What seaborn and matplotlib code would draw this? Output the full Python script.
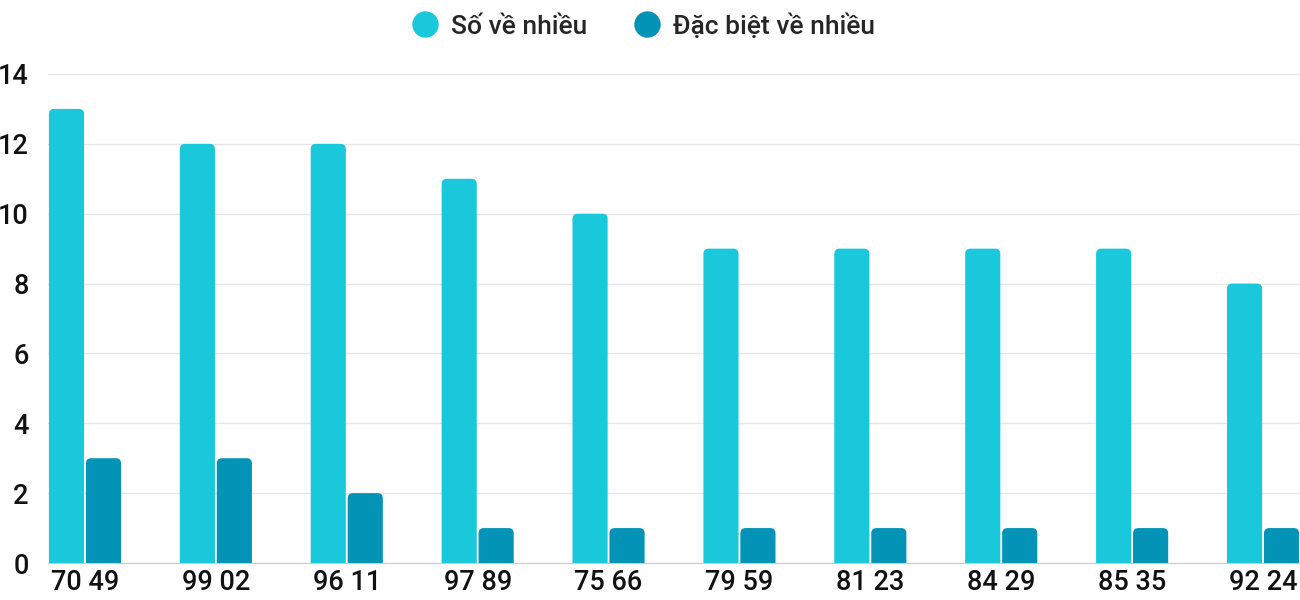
import pandas as pd
import matplotlib.pyplot as plt
import seaborn as sns
from matplotlib.patches import FancyBboxPatch
from matplotlib.lines import Line2D

# Data
pairs = ['70 49', '99 02', '96 11', '97 89', '75 66', '79 59', '81 23', '84 29', '85 35', '92 24']
so_ve_nhieu = [13, 12, 12, 11, 10, 9, 9, 9, 9, 8]
dac_biet = [3, 3, 2, 1, 1, 1, 1, 1, 1, 1]
series_names = ['Số về nhiều', 'Đặc biệt về nhiều']
colors = ['#1AC8DB', '#0393B6']

df = pd.DataFrame({
    'pair': pairs * 2,
    'count': so_ve_nhieu + dac_biet,
    'series': [series_names[0]] * len(pairs) + [series_names[1]] * len(pairs),
})

sns.set_style('white')
plt.rcParams['font.family'] = ['Roboto', 'DejaVu Sans']
plt.rcParams['font.weight'] = 'medium'

fig = plt.figure(figsize=(13, 6), dpi=100)
ax = fig.add_axes([48 / 1300, 37 / 600, 1252 / 1300, 489 / 600])

sns.barplot(data=df, x='pair', y='count', hue='series', palette=colors,
            saturation=1, width=0.565, gap=0.05, ax=ax, legend=False, zorder=3)

# swap plain bars for ones with rounded tops
for bar in list(ax.patches):
    x, w, h = bar.get_x(), bar.get_width(), bar.get_height()
    rounded = FancyBboxPatch((x, -0.3), w, h + 0.3,
                             boxstyle='round,pad=0,rounding_size=0.04',
                             mutation_aspect=131 / 35,
                             facecolor=bar.get_facecolor(), edgecolor='none',
                             zorder=3)
    bar.remove()
    ax.add_patch(rounded)

ax.set_xlim(-0.2825, len(pairs) - 1 + 0.2825)
ax.set_ylim(0, 14)
ax.set_yticks(range(0, 15, 2))
ax.yaxis.grid(True, color='#e6e6e6', linewidth=1, zorder=0)
ax.set_xlabel('')
ax.set_ylabel('')
for side in ['top', 'right', 'left']:
    ax.spines[side].set_visible(False)
ax.spines['bottom'].set_color('#cccccc')
ax.spines['bottom'].set_zorder(4)
ax.tick_params(axis='y', length=0, pad=14, labelsize=19.5, labelcolor='#111111')
ax.tick_params(axis='x', length=0, pad=4, labelsize=19.5, labelcolor='#111111')

handles = [Line2D([], [], marker='o', linestyle='', markersize=19,
                  markerfacecolor=c, markeredgecolor='none') for c in colors]
fig.legend(handles, series_names, loc='upper center', bbox_to_anchor=(0.495, 1.0),
           ncol=2, frameon=False, fontsize=19, handlelength=1.0, handletextpad=0.5,
           columnspacing=1.75, borderaxespad=0.1)

fig.savefig('out.png', dpi=100)
